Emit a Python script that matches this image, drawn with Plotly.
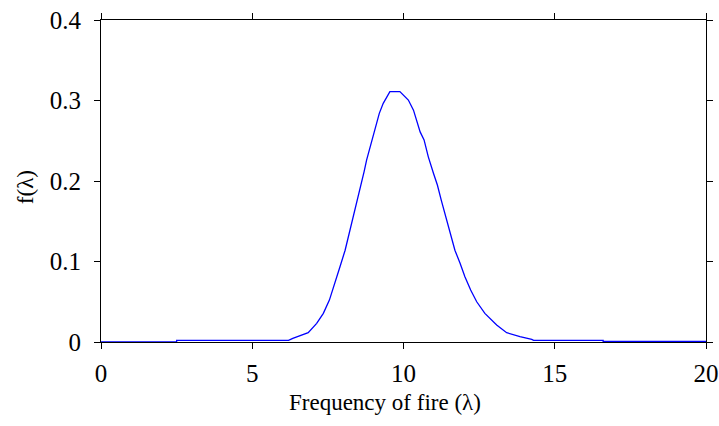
import plotly.graph_objects as go

# Values
lam = [0.0, 2.5, 2.5, 6.2, 6.34, 6.58, 6.85, 7.13, 7.35, 7.55, 7.74, 7.9, 8.07, 8.21,
       8.34, 8.45, 8.55, 8.62, 8.7, 8.78, 8.87, 8.98, 9.09, 9.2, 9.33, 9.55, 9.88,
       10.16, 10.33, 10.43, 10.55, 10.68, 10.82, 10.99, 11.12, 11.25, 11.4, 11.55,
       11.7, 11.87, 12.03, 12.22, 12.42, 12.69, 13.08, 13.41, 13.85, 14.24, 14.3,
       16.6, 16.6, 20.0]
f_lam = [0.0, 0.0, 0.002, 0.002, 0.0046, 0.0075, 0.0116, 0.0232, 0.0356, 0.052, 0.073,
         0.0935, 0.114, 0.135, 0.1557, 0.172, 0.186, 0.199, 0.212, 0.226, 0.2385,
         0.251, 0.2675, 0.284, 0.2965, 0.311, 0.311, 0.3006, 0.288, 0.276, 0.261,
         0.251, 0.23, 0.2096, 0.195, 0.176, 0.1557, 0.134, 0.114, 0.0977, 0.081,
         0.0646, 0.05, 0.0356, 0.0211, 0.0116, 0.0066, 0.0033, 0.002, 0.002, 0.0008,
         0.0008]

x_ticks = [0, 5, 10, 15, 20]
y_ticks = [0, 0.1, 0.2, 0.3, 0.4]
y_tick_text = ["0", "0.1", "0.2", "0.3", "0.4"]
x_title = "Frequency of fire (λ)"
y_title = "f(λ)"

font_family = "Liberation Serif, Times New Roman, serif"

fig = go.Figure()
fig.add_trace(go.Scatter(x=lam, y=f_lam, mode="lines",
                         line=dict(color="#0000ff", width=1.3),
                         showlegend=False, hoverinfo="skip"))

axis_common = dict(showline=True, linecolor="black", linewidth=1.2, mirror="ticks",
                   ticks="outside", ticklen=6, tickwidth=1, tickcolor="black",
                   showgrid=False, zeroline=False, automargin=False,
                   tickfont=dict(family=font_family, size=25, color="black"))

fig.update_layout(
    width=719, height=426,
    margin=dict(l=101, r=13, t=20, b=84),
    paper_bgcolor="white", plot_bgcolor="white",
    font=dict(family=font_family, size=23, color="black"),
    xaxis=dict(range=[0, 20], tickvals=x_ticks, ticktext=[str(t) for t in x_ticks],
               ticklabelstandoff=3, **axis_common),
    yaxis=dict(range=[0, 0.4], tickvals=y_ticks, ticktext=y_tick_text,
               ticklabelstandoff=8, **axis_common),
    annotations=[
        dict(text=x_title, xref="paper", yref="paper", x=0.4686, y=-0.189,
             xanchor="center", yanchor="middle", showarrow=False,
             font=dict(family=font_family, size=23, color="black")),
        dict(text=y_title, xref="paper", yref="paper", x=-0.1256, y=0.481,
             xanchor="center", yanchor="middle", showarrow=False, textangle=-90,
             font=dict(family=font_family, size=23, color="black")),
    ],
)

fig.write_html("out.html")
